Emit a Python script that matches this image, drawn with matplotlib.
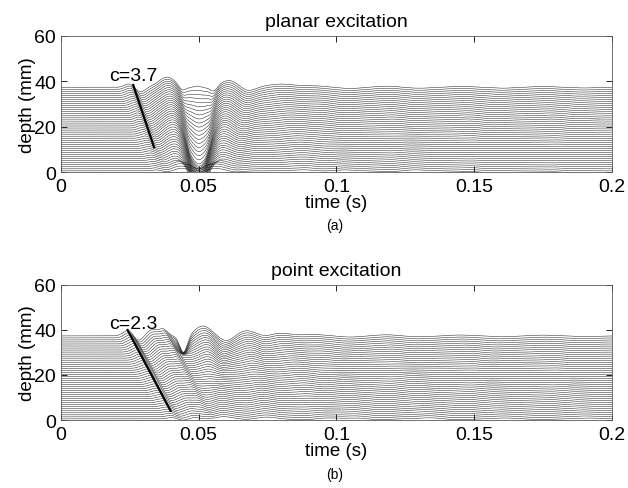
import numpy as np
import matplotlib
matplotlib.use('Agg')
import matplotlib.pyplot as plt

plt.rcParams['font.family'] = ['Liberation Sans', 'DejaVu Sans']

# trace depths (mm) and time axis (s)
depth_mm = np.linspace(0.5, 37.3, 42)
time_s = np.linspace(0.0, 0.2, 4001)

# wave features: arrival time (s), amplitude (mm)
# at bottom / mid / top depth, gaussian width (s), propagation speed (m/s)
planar_t0 = [0.0245, 0.029, 0.0385, 0.044, 0.0495, 0.0555, 0.061, 0.068, 0.080,
             0.092, 0.105, 0.118, 0.130, 0.145, 0.160, 0.175, 0.190]
planar_amp_bot = [0.4, -0.6, 1.0, -0.5, 0.0, -0.5, 1.0, -0.5, 0.6,
                  0.5, -0.5, 0.5, -0.4, 0.4, -0.4, 0.4, -0.3]
planar_amp_mid = [1.2, -1.6, 4.0, -1.5, 0.0, -1.5, 3.0, -1.4, 1.2,
                  0.7, -0.6, 0.6, -0.5, 0.5, -0.5, 0.45, -0.4]
planar_amp_top = [1.5, -2.0, 4.5, -1.8, 1.0, -2.0, 3.0, -1.6, 1.4,
                  0.6, -0.5, 0.5, -0.4, 0.4, -0.4, 0.35, -0.3]
planar_width = [0.0015, 0.0016, 0.003, 0.0012, 0.0015, 0.0012, 0.003, 0.0025, 0.005,
                0.004, 0.004, 0.004, 0.004, 0.004, 0.004, 0.004, 0.004]
planar_speed = [3.7, 3.7, 7.0, 7.0, 1000.0, -7.0, -8.0, -8.0, 3.7,
                3.7, -3.7, 3.7, -3.7, 3.7, -3.7, 3.7, -3.7]

# the deep trough at 0.05 s in the planar case: amplitude per depth
planar_dip_time = 0.050
planar_dip_width = 0.0034
planar_dip_depth = [0.0, 3.0, 5.0, 20.0, 37.3]
planar_dip_amp = [0.0, 0.0, -12.0, -17.0, -0.5]

point_t0 = [0.0244, 0.028, 0.033, 0.037, 0.0516, 0.060, 0.0674, 0.0747, 0.0795,
            0.092, 0.105, 0.118, 0.130, 0.145, 0.160, 0.175, 0.190]
point_amp_bot = [0.6, -0.6, 0.8, 0.8, 1.0, -0.8, 0.8, -0.2, 0.5,
                 0.5, -0.5, 0.5, -0.4, 0.4, -0.4, 0.4, -0.3]
point_amp_mid = [1.4, -1.3, 1.6, 1.8, 2.0, -1.4, 1.4, -0.4, 0.9,
                 0.6, -0.6, 0.6, -0.5, 0.5, -0.5, 0.45, -0.4]
point_amp_top = [2.5, -2.2, 2.6, 3.0, 4.4, -2.2, 2.3, -0.5, 1.2,
                 0.6, -0.5, 0.5, -0.4, 0.4, -0.4, 0.35, -0.3]
point_width = [0.0018, 0.0016, 0.0018, 0.0016, 0.003, 0.0025, 0.003, 0.002, 0.004,
               0.004, 0.004, 0.004, 0.004, 0.004, 0.004, 0.004, 0.004]
point_speed = [2.3, 2.3, 2.3, 2.3, 5.0, -5.0, 5.0, -5.0, 2.3,
               2.3, -2.3, 2.3, -2.3, 2.3, -2.3, 2.3, -2.3]

# the narrow notch near the surface at 0.045 s in the point case
point_dip_time = 0.0445
point_dip_width = 0.0014
point_dip_depth = [0.0, 29.0, 37.3]
point_dip_amp = [0.0, 0.0, -7.5]

panels = [
    {
        'title': 'planar excitation', 'tag': '(a)', 'label': 'c=3.7',
        't0': planar_t0, 'amp_bot': planar_amp_bot, 'amp_mid': planar_amp_mid,
        'amp_top': planar_amp_top, 'width': planar_width, 'speed': planar_speed,
        'front': ([0.02625, 0.0338], [38.3, 10.9]),
        'dip': (planar_dip_time, planar_dip_width, planar_dip_depth, planar_dip_amp),
    },
    {
        'title': 'point excitation', 'tag': '(b)', 'label': 'c=2.3',
        't0': point_t0, 'amp_bot': point_amp_bot, 'amp_mid': point_amp_mid,
        'amp_top': point_amp_top, 'width': point_width, 'speed': point_speed,
        'front': ([0.0242, 0.0398], [39.9, 4.1]),
        'dip': (point_dip_time, point_dip_width, point_dip_depth, point_dip_amp),
    },
]


def trace(depth, panel):
    top = depth_mm[-1]
    y = np.full_like(time_s, depth)
    for t0, a_b, a_m, a_t, w, c in zip(panel['t0'], panel['amp_bot'],
                                       panel['amp_mid'], panel['amp_top'],
                                       panel['width'], panel['speed']):
        amp = np.interp(depth, [0.0, top / 2, top], [a_b, a_m, a_t])
        arrival = t0 + (top - depth) / (c * 1000.0)
        y += amp * np.exp(-0.5 * ((time_s - arrival) / w) ** 2)
    t_dip, w_dip, dip_depth, dip_amp = panel['dip']
    amp = np.interp(depth, dip_depth, dip_amp)
    y += amp * np.exp(-0.5 * ((time_s - t_dip) / w_dip) ** 2)
    return y


fig = plt.figure(figsize=(6.28, 4.89), dpi=100)
axes_rects = [(0.097, 0.6462, 0.8775, 0.2787), (0.097, 0.139, 0.8775, 0.2767)]

for rect, panel in zip(axes_rects, panels):
    ax = fig.add_axes(rect)
    for d in depth_mm:
        ax.plot(time_s, trace(d, panel), color='0.1', linewidth=0.35)
    fx, fy = panel['front']
    ax.plot(fx, fy, color='k', linewidth=1.6)
    ax.text(0.0175, 40.6, panel['label'], fontsize=14)
    ax.set_xlim(0, 0.2)
    ax.set_ylim(0, 60)
    ax.set_xticks([0, 0.05, 0.1, 0.15, 0.2])
    ax.set_xticklabels(['0', '0.05', '0.1', '0.15', '0.2'])
    ax.set_yticks([0, 20, 40, 60])
    ax.tick_params(direction='in', top=True, right=True, labelsize=14,
                   length=4, width=0.6)
    ax.tick_params(axis='x', pad=4.5)
    ax.tick_params(axis='y', pad=3.5)
    for s in ax.spines.values():
        s.set_linewidth(0.6)
        s.set_color('0.35')
    ax.set_title(panel['title'], fontsize=14, pad=7)
    ax.set_xlabel('time (s)', fontsize=13.5, labelpad=-1)
    ax.set_ylabel('depth (mm)', fontsize=13.5, labelpad=-1)

fig.text(0.533, 0.538, '(a)', fontsize=10, ha='center', va='center')
fig.text(0.533, 0.029, '(b)', fontsize=10, ha='center', va='center')

fig.savefig('out.png', dpi=100)
